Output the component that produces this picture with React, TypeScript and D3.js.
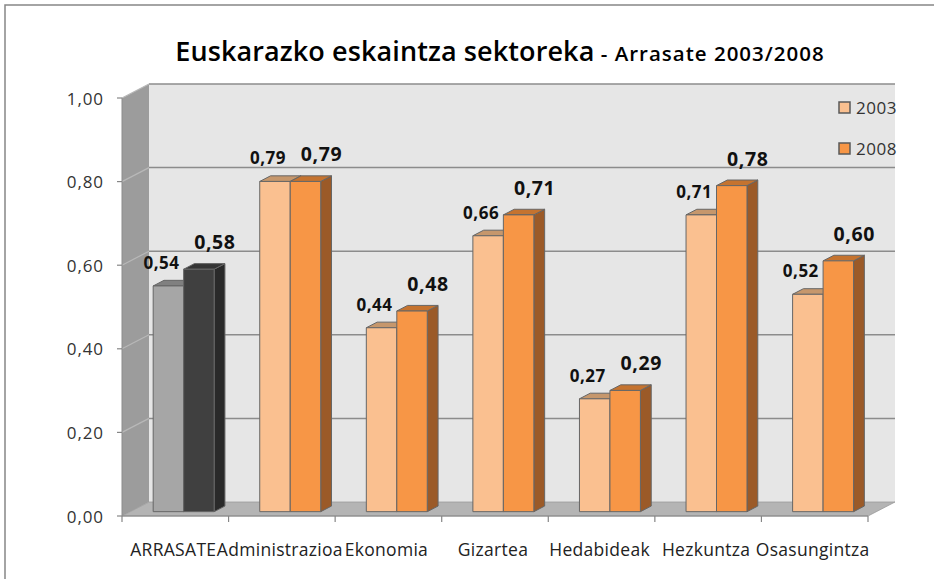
import React from "react";
import * as d3 from "d3";

const categories = ["ARRASATE", "Administrazioa", "Ekonomia", "Gizartea", "Hedabideak", "Hezkuntza", "Osasungintza"];
const values2003 = [0.54, 0.79, 0.44, 0.66, 0.27, 0.71, 0.52];
const values2008 = [0.58, 0.79, 0.48, 0.71, 0.29, 0.78, 0.60];
const seriesNames = ["2003", "2008"];
const yTicks = [0, 0.2, 0.4, 0.6, 0.8, 1.0];

const W = 934, H = 579;
const FX0 = 122, FX1 = 868; // front plot x range
const DX = 27, DY = 14; // depth projection
const Z0 = 0.31, Z1 = 0.71;
const FONT = "'Open Sans', 'DejaVu Sans', sans-serif";

const y = d3.scaleLinear().domain([0, 1]).range([516, 98]);
const xBand = d3.scaleBand<string>().domain(categories).range([FX0, FX1]);

const proj = (x: number, v: number, z: number): [number, number] => [x + z * DX, y(v) - z * DY];
const poly = (pts: [number, number][]) => pts.map((p) => p.join(",")).join(" ");
const fmt = (v: number) => v.toFixed(2).replace(".", ",");

const palettes = {
  gray: [
    { front: "#a6a6a6", top: "#808080", side: "#6e6e6e" },
    { front: "#404040", top: "#353535", side: "#2a2a2a" },
  ],
  orange: [
    { front: "#fac090", top: "#c6976c", side: "#a47650" },
    { front: "#f79646", top: "#c5732f", side: "#9b5a28" },
  ],
};

function Bar({ x0, w, v, c }: { x0: number; w: number; v: number; c: { front: string; top: string; side: string } }) {
  const x1 = x0 + w;
  const stroke = "#666";
  return (
    <g>
      <polygon points={poly([proj(x1, v, Z0), proj(x1, v, Z1), proj(x1, 0, Z1), proj(x1, 0, Z0)])} fill={c.side} stroke={stroke} strokeWidth={1} />
      <polygon points={poly([proj(x0, v, Z0), proj(x1, v, Z0), proj(x1, v, Z1), proj(x0, v, Z1)])} fill={c.top} stroke={stroke} strokeWidth={1} />
      <polygon points={poly([proj(x0, v, Z0), proj(x1, v, Z0), proj(x1, 0, Z0), proj(x0, 0, Z0)])} fill={c.front} stroke={stroke} strokeWidth={1} />
    </g>
  );
}

export default function App() {
  const bw = xBand.bandwidth();
  const gw = bw * 0.572;
  const barW = gw / 2;
  const backX0 = FX0 + DX, backX1 = FX1 + DX;

  return (
    <svg width={W} height={H} style={{ position: "absolute", left: 0, top: 0, background: "#fff" }}>
      <rect x={5} y={5} width={W + 20} height={H + 20} fill="#fff" stroke="#868686" strokeWidth={1.5} />
      {/* title */}
      <text x={500} y={61} textAnchor="middle" fontFamily={FONT} fill="#000">
        <tspan fontSize={27} fontWeight={600} letterSpacing={0.1}>Euskarazko eskaintza sektoreka</tspan>
        <tspan fontSize={20.5} fontWeight={600} letterSpacing={1}> - Arrasate 2003/2008</tspan>
      </text>

      {/* back wall */}
      <rect x={backX0} y={y(1) - DY} width={backX1 - backX0} height={y(0) - y(1)} fill="#e6e6e6" />
      {/* side wall */}
      <polygon points={poly([proj(FX0, 1, 0), proj(FX0, 1, 1), proj(FX0, 0, 1), proj(FX0, 0, 0)])} fill="#9c9c9c" />
      {/* floor */}
      <polygon points={poly([proj(FX0, 0, 0), proj(FX0, 0, 1), proj(FX1, 0, 1), proj(FX1, 0, 0)])} fill="#b4b4b4" stroke="#9a9a9a" strokeWidth={0.8} />
      {/* gridlines */}
      {yTicks.filter((t) => t > 0).map((t) => {
        const [bx, by] = proj(FX0, t, 1);
        const [fx, fy] = proj(FX0, t, 0);
        return (
          <g key={t}>
            <line x1={bx} y1={by} x2={backX1} y2={by} stroke="#8c8c8c" strokeWidth={1.5} />
            <line x1={fx} y1={fy} x2={bx} y2={by} stroke="#b8b8b8" strokeWidth={1.2} />
          </g>
        );
      })}
      {/* y axis */}
      <line x1={FX0} y1={y(0)} x2={FX0} y2={y(1)} stroke="#8c8c8c" strokeWidth={1} />
      {yTicks.map((t) => (
        <g key={t}>
          <line x1={FX0 - 5} y1={y(t)} x2={FX0} y2={y(t)} stroke="#868686" strokeWidth={1.2} />
          <text x={104} y={y(t) + 6.5} textAnchor="end" fontFamily={FONT} fontSize={17} letterSpacing={0.9} fill="#333">
            {fmt(t)}
          </text>
        </g>
      ))}
      {/* x axis */}
      <line x1={FX0} y1={y(0)} x2={FX1} y2={y(0)} stroke="#868686" strokeWidth={1} />
      {d3.range(categories.length + 1).map((i) => {
        const x = FX0 + i * bw;
        return <line key={i} x1={x} y1={y(0)} x2={x} y2={y(0) + 6} stroke="#868686" strokeWidth={1.2} />;
      })}
      {categories.map((c) => (
        <text key={c} x={(xBand(c) as number) + bw / 2 - 2} y={556} textAnchor="middle" fontFamily={FONT} fontSize={17.5} letterSpacing={0.3} fill="#222">
          {c}
        </text>
      ))}

      {/* bars */}
      {categories.map((c, i) => {
        const pal = i === 0 ? palettes.gray : palettes.orange;
        const gx = (xBand(c) as number) + (bw - gw) / 2;
        const vals = [values2003[i], values2008[i]];
        return (
          <g key={c}>
            {vals.map((v, s) => (
              <Bar key={s} x0={gx + s * barW} w={barW} v={v} c={pal[s]} />
            ))}
          </g>
        );
      })}
      {/* data labels */}
      {categories.map((c, i) => {
        const gx = (xBand(c) as number) + (bw - gw) / 2;
        const [ax, ay] = proj(gx + barW / 2, values2003[i], Z0);
        const [bx, by] = proj(gx + barW * 1.5, values2008[i], Z0);
        return (
          <g key={c} fontFamily={FONT} fontWeight={700} fill="#111">
            <text x={ax - 7} y={ay - 17} textAnchor="middle" fontSize={17} letterSpacing={0.5}>{fmt(values2003[i])}</text>
            <text x={bx + 16} y={by - 20} textAnchor="middle" fontSize={19.5} letterSpacing={0.6}>{fmt(values2008[i])}</text>
          </g>
        );
      })}

      {/* legend */}
      {seriesNames.map((n, s) => {
        const ly = 102 + s * 41;
        return (
          <g key={n}>
            <rect x={839} y={ly} width={11} height={11} fill={palettes.orange[s].front} stroke="#595959" strokeWidth={1.5} />
            <text x={856} y={ly + 11.5} fontFamily={FONT} fontSize={17} letterSpacing={0.5} fill="#333">{n}</text>
          </g>
        );
      })}
    </svg>
  );
}
